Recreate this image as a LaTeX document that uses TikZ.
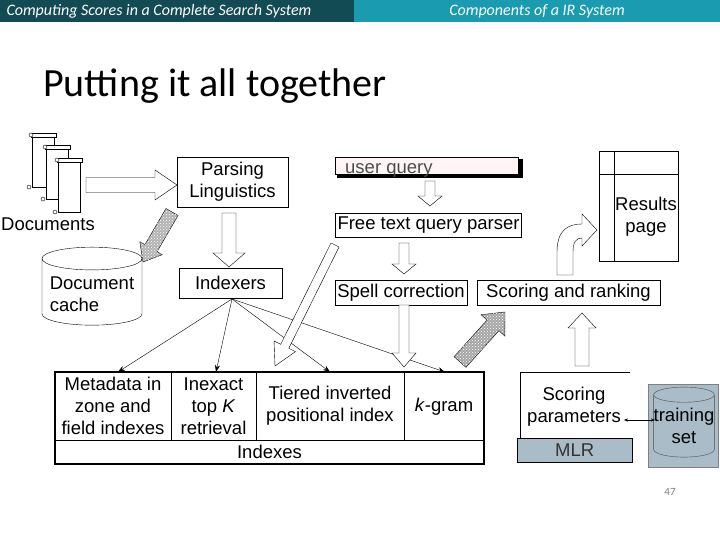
\documentclass[tikz,border=0pt]{standalone}
\usepackage{fontspec}
\setmainfont{Liberation Sans}
\newfontfamily\carl{Carlito}
\usetikzlibrary{calc,patterns,shapes.geometric,arrows.meta}
\definecolor{hdark}{HTML}{134B55}
\definecolor{hlight}{HTML}{1A9BB0}
\definecolor{mlrgray}{HTML}{A9BCC8}
\newcommand\blockarrow[6][]{%
  \draw[#1] ($#2!#4!90:#3$) -- ($($#3!#6!#2$)!#4!-90:#2$) -- ($($#3!#6!#2$)!#5!-90:#2$) -- #3
   -- ($($#3!#6!#2$)!#5!90:#2$) -- ($($#3!#6!#2$)!#4!90:#2$) -- ($#2!#4!-90:#3$) -- cycle;}
\newcommand\scroll[2]{%
  \draw[fill=white] (#1,#2) rectangle ++(22,52);
  \draw[fill=white] (#1-1,#2-2) rectangle ++(25,4);
  \draw[fill=white] (#1-3,#2+52) circle (2);
  \draw[fill=white] (#1-1,#2) circle (2);}
\begin{document}
\begin{tikzpicture}[x=1pt,y=-1pt,
  lbl/.style={font=\fontsize{18.5}{22}\selectfont},
  box/.style={draw,lbl,inner sep=2pt,align=center},
  tip/.style={-{Stealth[length=7pt,width=5pt]}}]
\useasboundingbox (0,0) rectangle (720,540);
% header
\fill[hdark] (0,0) rectangle (354,22);
\fill[hlight] (354,0) rectangle (720,22);
\node[anchor=west,white,font=\carl\itshape\fontsize{16}{18}\selectfont] (h1) at (3,11) {Computing Scores in a Complete Search System};
\node[white,font=\carl\itshape\fontsize{16}{18}\selectfont] (h2) at (537,11) {Components of a IR System};
\node[anchor=base west,font=\carl\fontsize{40}{44}\selectfont,inner sep=0] (title) at (43,97) {Putting it all together};
% documents
\scroll{32}{135}\scroll{46}{147}\scroll{58}{160}
\node[lbl] (docs) at (48,224) {Documents};
\blockarrow[fill=white]{(86,185)}{(177,185)}{7.5pt}{15pt}{22pt}
% parsing
\node[box,minimum width=111,minimum height=50] (parse) at (232.5,182) {Parsing\\Linguistics};
\blockarrow[fill=gray!60,postaction={pattern=crosshatch dots,pattern color=white}]{(172,212)}{(143,262)}{7pt}{13pt}{16pt}
\node[cylinder,shape border rotate=90,draw,aspect=0.25,minimum width=100,minimum height=78,lbl,align=left] (cache) at (92,294) {Document\\cache};
\blockarrow[fill=white]{(229,213)}{(229,267)}{7pt}{16pt}{14pt}
\node[box,minimum width=103,minimum height=30] (idx) at (230.5,283) {Indexers};
% indexes table
\draw[line width=1.6pt] (55,372) rectangle (484,464);
\draw (55,440) -- (484,440);
\draw (171,372) -- (171,440) (256,372) -- (256,440) (404,372) -- (404,440);
\node[lbl,align=center] (meta) at (113,406) {Metadata in\\zone and\\field indexes};
\node[lbl,align=center] (inex) at (213.5,406) {Inexact\\top \textit{K}\\retrieval};
\node[lbl,align=center] (tier) at (330,406) {Tiered inverted\\positional index};
\node[lbl] (kgram) at (444,407) {\textit{k}-gram};
\node[lbl] (indexes) at (269.5,452) {Indexes};
\draw[tip] (232,299) -- (118,372);
\draw[tip] (232,299) -- (216,372);
\draw[tip] (232,299) -- (330,372);
\draw[tip] (232,299) -- (445,372);
% query side
\draw[fill=black] (337,159) rectangle (522,177);
\node[draw,fill=red!4,minimum width=183,minimum height=17,anchor=north west,inner sep=0pt] (uq) at (335,157) {};
\node[lbl,text=black!70,anchor=base west,inner sep=0] (uqt) at (345,174) {user query};
\blockarrow[fill=white]{(430,181)}{(430,206)}{5pt}{12pt}{10pt}
\node[box,minimum width=183,minimum height=24] (ftp) at (428.5,225.5) {Free text query parser};
\blockarrow[fill=white]{(404,243)}{(404,274)}{5pt}{12pt}{10pt}
\node[box,minimum width=128,minimum height=25] (spell) at (401,292.5) {Spell correction};
\blockarrow[fill=white]{(404,305)}{(404,367)}{5pt}{12pt}{14pt}
\blockarrow[fill=white]{(335,245)}{(275,366)}{4.5pt}{12pt}{22pt}
\node[box,minimum width=183,minimum height=25] (score) at (568.5,292.5) {Scoring and ranking};
\blockarrow[fill=gray!70,postaction={pattern=crosshatch dots,pattern color=white}]{(460,362)}{(505,312)}{8pt}{16pt}{18pt}
\blockarrow[fill=white]{(582,366)}{(582,313)}{7pt}{14pt}{15pt}
\draw[fill=white] (557,275) -- (557,252) .. controls (557,230) and (568,224) .. (582,224) -- (582,214) -- (597,230) -- (582,246) -- (582,238)
  .. controls (576,238) and (573,242) .. (573,252) -- (573,275) -- cycle;
% results page
\draw[line width=1pt] (599,152) rectangle (678,261);
\draw (614,152) -- (614,261) (599,174) -- (678,174);
\node[lbl,align=center] (res) at (646,217) {Results\\page};
% scoring parameters
\draw (630,372) -- (520,372) -- (520,438);
\node[lbl,align=center] (spar) at (574,407) {Scoring\\parameters};
\node[draw,fill=mlrgray,minimum width=115,minimum height=24,anchor=north west,lbl,text=black!80] (mlr) at (517,438) {MLR};
\fill[mlrgray] (648,384) rectangle (718,467);
\draw[gray] (648,384) rectangle (718,467);
\node[cylinder,shape border rotate=90,draw=black!70,aspect=0.25,minimum width=58,minimum height=70,lbl,align=center,inner sep=0] (train) at (684,426) {training\\set};
\coordinate (da) at (624,420);
\coordinate (db) at (655,420);
\draw[{Stealth[length=4pt]}-{Stealth[length=4pt]}] (da) -- (db);
\node[text=gray,font=\carl\fontsize{11}{12}\selectfont] (pg) at (670,492) {47};
\end{tikzpicture}
\end{document}
